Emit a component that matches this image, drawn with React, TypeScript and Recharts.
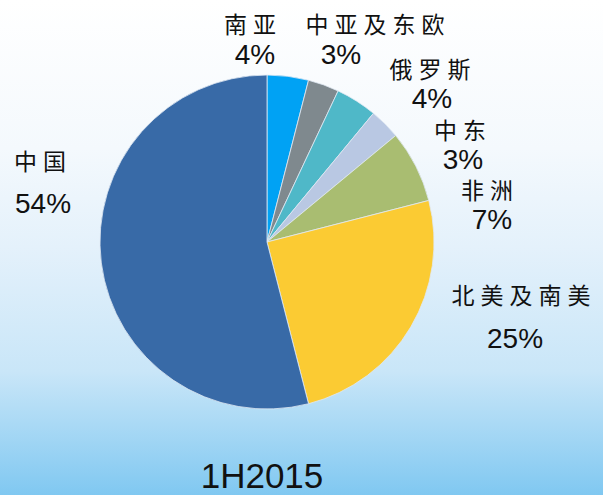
import { PieChart, Pie, Cell } from "recharts";

const REGIONS = ["南亚", "中亚及东欧", "俄罗斯", "中东", "非洲", "北美及南美", "中国"];
const SHARES = [4, 3, 4, 3, 7, 25, 54];
const COLORS = ["#00a2f4", "#7f898e", "#4fb8c8", "#b9c8e3", "#a9bd71", "#fbcb33", "#386aa7"];
const TITLE = "1H2015";

// label placement relative to the pie centre: [name dx, name dy, pct dx, pct dy]
const LABEL_LAYOUT = [
  [-14, -219, -12, -188],
  [111, -219, 74, -188],
  [166, -174, 165, -144],
  [196, -113, 196, -83],
  [223, -53, 225, -23],
  [257, 52, 248, 96],
  [-224, -82, -224, -39],
];

const data = REGIONS.map((name, i) => ({ name, value: SHARES[i] }));

const CX = 267;
const CY = 242;

function renderLabel(props: any) {
  const { index } = props;
  const [nx, ny, px, py] = LABEL_LAYOUT[index];
  return (
    <g key={`lbl-${index}`}>
      <text
        x={CX + nx}
        y={CY + ny}
        textAnchor="middle"
        dominantBaseline="central"
        fontFamily="'Noto Sans CJK SC', sans-serif"
        fontSize={23}
        letterSpacing={6}
        fill="#111"
      >
        {REGIONS[index]}
      </text>
      <text
        x={CX + px}
        y={CY + py}
        textAnchor="middle"
        dominantBaseline="central"
        fontFamily="'Liberation Sans', Arial, sans-serif"
        fontSize={28}
        fill="#111"
      >
        {SHARES[index]}%
      </text>
    </g>
  );
}

export default function App() {
  return (
    <div
      style={{
        position: "absolute",
        left: 0,
        top: 0,
        width: 603,
        height: 495,
        background:
          "linear-gradient(180deg, #ffffff 0%, #f4f9fd 30%, #e4f1fb 50%, #c9e6f8 75%, #80c8f1 100%)",
      }}
    >
      <PieChart width={603} height={495} margin={{ top: 0, right: 0, bottom: 0, left: 0 }}>
        <Pie
          data={data}
          dataKey="value"
          cx={CX}
          cy={CY}
          outerRadius={167}
          startAngle={90}
          endAngle={-270}
          stroke="#dfe8f2"
          strokeWidth={0.8}
          label={renderLabel}
          labelLine={false}
          isAnimationActive={false}
        >
          {data.map((d, i) => (
            <Cell key={d.name} fill={COLORS[i]} />
          ))}
        </Pie>
      </PieChart>
      <div
        style={{
          position: "absolute",
          left: 0,
          width: 524,
          top: 459,
          lineHeight: "34px",
          textAlign: "center",
          fontFamily: "'Liberation Sans', Arial, sans-serif",
          fontSize: 35,
          color: "#111",
        }}
      >
        {TITLE}
      </div>
    </div>
  );
}
